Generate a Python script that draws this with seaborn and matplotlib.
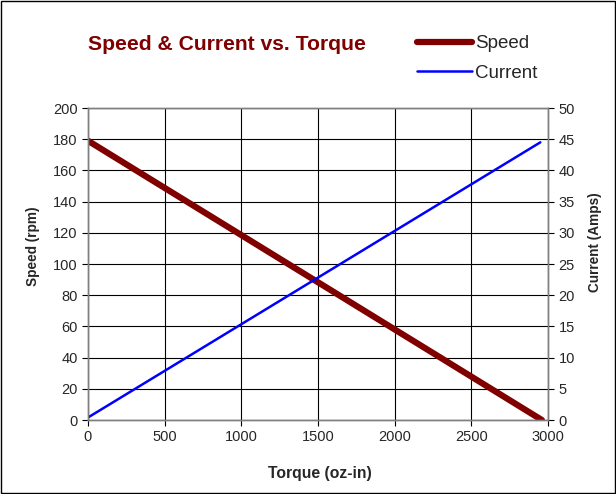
import matplotlib
matplotlib.use('Agg')
import matplotlib.pyplot as plt
import seaborn as sns
import pandas as pd

torque_speed = [0, 2960]
speed_rpm = [179, 0]
torque_current = [0, 2950]
current_amps = [0.4, 44.5]

sns.set_style('white')
plt.rcParams['font.family'] = ['Liberation Sans', 'DejaVu Sans']

fig = plt.figure(figsize=(6.16, 4.94), dpi=100)
ax = fig.add_axes([88 / 616, 1 - 420 / 494, 460 / 616, 312 / 494])
ax2 = ax.twinx()

speed_df = pd.DataFrame({'torque': torque_speed, 'speed': speed_rpm})
current_df = pd.DataFrame({'torque': torque_current, 'current': current_amps})

sns.lineplot(data=speed_df, x='torque', y='speed', ax=ax, color='#800000',
             linewidth=4.5, label='Speed', legend=False)
sns.lineplot(data=current_df, x='torque', y='current', ax=ax2, color='#0000ff',
             linewidth=1.8, label='Current', legend=False)

ax.set_xlim(0, 3000)
ax.set_ylim(0, 200)
ax2.set_ylim(0, 50)
ax.set_xticks(range(0, 3001, 500))
ax.set_yticks(range(0, 201, 20))
ax2.set_yticks(range(0, 51, 5))

ax.grid(True, color='#000000', linewidth=0.8)
ax.set_axisbelow(True)
for a in (ax, ax2):
    for s in a.spines.values():
        s.set_color('#808080')
        s.set_linewidth(1)
ax.tick_params(labelsize=10.5, length=4, direction='out', color='black', left=True, bottom=True)
ax2.tick_params(labelsize=10.5, length=4, direction='out', color='black', right=True)

ax.set_xlabel('Torque (oz-in)', fontsize=11.3, fontweight='bold')
ax.set_ylabel('Speed (rpm)', fontsize=9.8, fontweight='bold')
ax2.set_ylabel('Current (Amps)', fontsize=9.8, fontweight='bold')
ax.xaxis.label.set_va('center')
ax.yaxis.label.set_va('center')
ax2.yaxis.label.set_va('center')
ax.xaxis.set_label_coords(0.504, -0.17)
ax.yaxis.set_label_coords(-0.12, 0.558)
ax2.yaxis.set_label_coords(1.102, 0.57)

fig.text(227 / 616, 1 - 45 / 494, 'Speed & Current vs. Torque', fontsize=15.2,
         fontweight='bold', color='#800000', ha='center', va='center')

h1, l1 = ax.get_legend_handles_labels()
h2, l2 = ax2.get_legend_handles_labels()
fig.legend(h1 + h2, l1 + l2, loc='upper left', bbox_to_anchor=(417 / 616, 1 - 35 / 494),
           frameon=False, fontsize=13.5, handlelength=2.93, handletextpad=0.16,
           labelspacing=0.66, borderaxespad=0, borderpad=0)

fig.patches.append(plt.Rectangle((0.002, 0.002), 0.996, 0.996, transform=fig.transFigure,
                                 fill=False, edgecolor='black', linewidth=1))

fig.savefig('out.png', dpi=100)
